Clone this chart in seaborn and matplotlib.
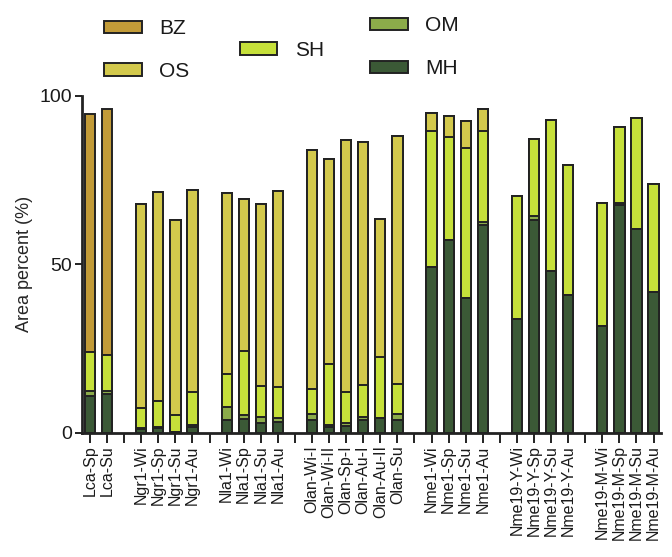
import pandas as pd
import numpy as np
import seaborn as sns
import matplotlib.pyplot as plt
from matplotlib.patches import Patch

# slots in plot order, "" marks a blank gap slot between site groups
samples = ["Lca-Sp", "Lca-Su", "",
           "Ngr1-Wi", "Ngr1-Sp", "Ngr1-Su", "Ngr1-Au", "",
           "Nla1-Wi", "Nla1-Sp", "Nla1-Su", "Nla1-Au", "",
           "Olan-Wi-I", "Olan-Wi-II", "Olan-Sp-I", "Olan-Au-I", "Olan-Au-II", "Olan-Su", "",
           "Nme1-Wi", "Nme1-Sp", "Nme1-Su", "Nme1-Au", "",
           "Nme19-Y-Wi", "Nme19-Y-Sp", "Nme19-Y-Su", "Nme19-Y-Au", "",
           "Nme19-M-Wi", "Nme19-M-Sp", "Nme19-M-Su", "Nme19-M-Au"]

# area percent of each class (only real samples, in order)
MH = [11.0, 11.6,
      1.0, 1.3, 0.3, 1.8,
      3.9, 4.0, 2.9, 3.3,
      3.7, 1.8, 1.9, 3.7, 4.5, 3.9,
      49.2, 57.3, 40.1, 61.7,
      33.7, 63.0, 47.9, 40.9,
      31.8, 67.7, 60.4, 41.7]
OM = [1.3, 0.8,
      0.4, 0.4, 0.0, 0.6,
      3.9, 1.3, 1.9, 1.0,
      1.8, 0.6, 1.0, 1.1, 0.0, 1.6,
      0.0, 0.0, 0.0, 0.8,
      0.0, 1.4, 0.0, 0.0,
      0.0, 0.6, 0.0, 0.0]
SH = [11.8, 10.6,
      6.0, 7.6, 5.0, 9.7,
      9.7, 19.1, 9.2, 9.4,
      7.5, 18.0, 9.2, 9.4, 17.9, 9.0,
      40.5, 30.6, 44.3, 27.1,
      36.5, 22.8, 44.9, 38.6,
      36.5, 22.3, 33.0, 32.2]
OS = [0.0, 0.0,
      60.6, 62.1, 57.8, 59.9,
      53.8, 45.0, 53.9, 58.0,
      70.8, 60.8, 74.8, 72.2, 41.0, 73.7,
      5.2, 6.0, 8.1, 6.4,
      0.0, 0.0, 0.0, 0.0,
      0.0, 0.0, 0.0, 0.0]
BZ = [70.5, 73.0,
      0, 0, 0, 0,
      0, 0, 0, 0,
      0, 0, 0, 0, 0, 0,
      0, 0, 0, 0,
      0, 0, 0, 0,
      0, 0, 0, 0]

classes = ["BZ", "OS", "SH", "OM", "MH"]
colors = {"BZ": "#c29b38", "OS": "#d3c94c", "SH": "#c6e03a",
          "OM": "#8cac4a", "MH": "#3b5936"}

# unique slot names so the gaps stay as empty categories
slots = [s if s else "gap%d" % i for i, s in enumerate(samples)]
real = [s for s in slots if not s.startswith("gap")]

df = pd.DataFrame({"slot": real, "MH": MH, "OM": OM, "SH": SH, "OS": OS, "BZ": BZ})
# cumulative tops, drawn from the top layer down so each one covers the next
df["cum_MH"] = df["MH"]
df["cum_OM"] = df["cum_MH"] + df["OM"]
df["cum_SH"] = df["cum_OM"] + df["SH"]
df["cum_OS"] = df["cum_SH"] + df["OS"]
df["cum_BZ"] = df["cum_OS"] + df["BZ"]

sns.set_style("ticks")
plt.rcParams['font.family'] = ['Liberation Sans', 'DejaVu Sans']
plt.rcParams['text.color'] = '#1a1a1a'
plt.rcParams['xtick.labelcolor'] = '#1a1a1a'
plt.rcParams['ytick.labelcolor'] = '#1a1a1a'

fig = plt.figure(figsize=(6.72, 5.57), dpi=100)
ax = fig.add_axes([0.122, 0.223, 0.862, 0.605])

edge = "#222222"
for c in classes:
    sns.barplot(data=df, x="slot", y="cum_" + c, order=slots, color=colors[c],
                width=0.6, edgecolor=edge, linewidth=1.4, saturation=1, ax=ax)

ax.set_xlim(-0.47, len(slots) - 0.55)
ax.set_ylim(0, 100)
ax.set_yticks([0, 50, 100])
ax.set_xticks(range(len(slots)))
ax.set_xticklabels(samples, rotation=90, fontsize=11.5)
ax.tick_params(axis="x", length=7, width=1.4, color=edge, pad=2)
ax.tick_params(axis="y", length=5, width=1.4, color=edge, labelsize=14, pad=2)
ax.set_xlabel("")
ax.set_ylabel("Area percent (%)", fontsize=13, labelpad=5)
for s in ["left", "bottom"]:
    ax.spines[s].set_linewidth(2)
    ax.spines[s].set_color(edge)
sns.despine(ax=ax)

def patches(names):
    return [Patch(facecolor=colors[n], edgecolor=edge, linewidth=1.4) for n in names]

leg_kw = dict(frameon=False, loc="center left", borderaxespad=0, borderpad=0,
              handlelength=1.8, handleheight=0.55, handletextpad=0.85,
              labelspacing=1.15, fontsize=15)
fig.legend(patches(["BZ", "OS"]), ["BZ", "OS"], bbox_to_anchor=(0.155, 0.910), **leg_kw)
fig.legend(patches(["SH"]), ["SH"], bbox_to_anchor=(0.357, 0.910), **leg_kw)
fig.legend(patches(["OM", "MH"]), ["OM", "MH"], bbox_to_anchor=(0.551, 0.915), **leg_kw)

fig.savefig("out.png", dpi=100)
